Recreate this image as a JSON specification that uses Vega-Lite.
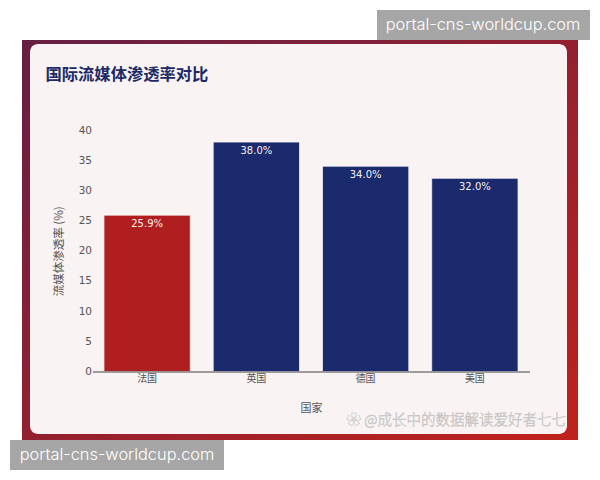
{
  "$schema": "https://vega.github.io/schema/vega-lite/v6.json",
  "width": 437,
  "height": 241.5,
  "autosize": "none",
  "padding": {"left": 92.5, "top": 130, "right": 70.5, "bottom": 108.5},
  "background": "#ffffff",
  "data": {
    "values": [
      {"country": "法国", "rate": 25.9, "label": "25.9%"},
      {"country": "英国", "rate": 38.0, "label": "38.0%"},
      {"country": "德国", "rate": 34.0, "label": "34.0%"},
      {"country": "美国", "rate": 32.0, "label": "32.0%"}
    ]
  },
  "layer": [
    {
      "data": {"values": [{}]},
      "mark": {
        "type": "rect",
        "x": -70.5, "x2": 485.5, "y": -90, "y2": 310,
        "color": {
          "x1": 0, "y1": 0, "x2": 1, "y2": 1,
          "gradient": "linear",
          "stops": [
            {"offset": 0, "color": "#651f44"},
            {"offset": 1, "color": "#c0221c"}
          ]
        }
      },
      "encoding": {}
    },
    {
      "data": {"values": [{}]},
      "mark": {
        "type": "rect",
        "x": -62.5, "x2": 474.5, "y": -86, "y2": 304,
        "cornerRadius": 8,
        "color": "#f9f3f3"
      },
      "encoding": {}
    },
    {
      "data": {"values": [{}]},
      "mark": {
        "type": "rule",
        "x": -47.5, "x2": 457.5, "y": -36, "y2": -36,
        "color": "#eee7e6",
        "strokeWidth": 1
      },
      "encoding": {}
    },
    {
      "data": {"values": [{"heading": "国际流媒体渗透率对比"}]},
      "mark": {
        "type": "text",
        "x": -47, "y": -55.5,
        "align": "left",
        "baseline": "middle",
        "font": "Noto Sans CJK SC",
        "fontSize": 16.3,
        "fontWeight": "bold",
        "color": "#1d2a66"
      },
      "encoding": {"text": {"field": "heading"}}
    },
    {
      "encoding": {
        "x": {
          "field": "country",
          "type": "nominal",
          "sort": null,
          "scale": {"paddingInner": 0.21, "paddingOuter": 0.105},
          "axis": {
            "title": "国家",
            "titleFont": "Noto Sans CJK SC",
            "titleFontSize": 11,
            "titleFontWeight": "normal",
            "titleColor": "#555555",
            "titlePadding": 19,
            "labelAngle": 0,
            "labelFont": "Noto Sans CJK SC",
            "labelFontSize": 10,
            "labelColor": "#555555",
            "labelPadding": 2,
            "tickSize": 0,
            "domainColor": "#444444",
            "domainWidth": 1.2,
            "zindex": 1
          }
        },
        "y": {
          "field": "rate",
          "type": "quantitative",
          "scale": {"domain": [0, 40]},
          "axis": {
            "title": "流媒体渗透率 (%)",
            "titleFont": "Noto Sans CJK SC",
            "titleFontSize": 11.5,
            "titleFontWeight": "normal",
            "titleColor": "#555555",
            "titlePadding": 14,
            "values": [0, 5, 10, 15, 20, 25, 30, 35, 40],
            "labelOverlap": false,
            "labelFont": "DejaVu Sans",
            "labelFontSize": 10.5,
            "labelColor": "#555555",
            "labelPadding": 1,
            "tickSize": 0,
            "domain": false,
            "grid": false,
            "zindex": 1
          }
        }
      },
      "layer": [
        {
          "mark": {"type": "bar", "stroke": "#ffffff", "strokeWidth": 1, "strokeOpacity": 0.7},
          "encoding": {
            "color": {
              "field": "country",
              "type": "nominal",
              "sort": null,
              "scale": {"domain": ["法国", "英国", "德国", "美国"], "range": ["#b01f1f", "#1a2a6c", "#1a2a6c", "#1a2a6c"]},
              "legend": null
            }
          }
        },
        {
          "mark": {"type": "text", "baseline": "top", "dy": 3.5, "font": "DejaVu Sans", "fontSize": 10, "color": "#f4f0f0"},
          "encoding": {
            "text": {"field": "label", "type": "nominal"}
          }
        }
      ]
    },
    {
      "data": {"values": [{"mark": "✿ @成长中的数据解读爱好者七七"}]},
      "mark": {
        "type": "text",
        "x": 473.5, "y": 291,
        "align": "right",
        "font": "Noto Sans CJK SC",
        "fontSize": 14.5,
        "fontWeight": 300,
        "color": "#f8f4f4",
        "stroke": "#c2bfbf",
        "strokeWidth": 0.5
      },
      "encoding": {"text": {"field": "mark"}}
    },
    {
      "data": {"values": [{}]},
      "mark": {"type": "rect", "x": 284.5, "x2": 497.5, "y": -120, "y2": -90, "color": "#a6a6a6"},
      "encoding": {}
    },
    {
      "data": {"values": [{}]},
      "mark": {"type": "rect", "x": -82.5, "x2": 131.5, "y": 310, "y2": 340, "color": "#a6a6a6"},
      "encoding": {}
    },
    {
      "data": {"values": [{"site": "portal-cns-worldcup.com"}]},
      "mark": {"type": "text", "x": 390.5, "y": -105, "font": "Inter", "fontSize": 16.4, "fontWeight": 300, "color": "#ffffff"},
      "encoding": {"text": {"field": "site"}}
    },
    {
      "data": {"values": [{"site": "portal-cns-worldcup.com"}]},
      "mark": {"type": "text", "x": 24.5, "y": 325, "font": "Inter", "fontSize": 16.4, "fontWeight": 300, "color": "#ffffff"},
      "encoding": {"text": {"field": "site"}}
    }
  ]
}
